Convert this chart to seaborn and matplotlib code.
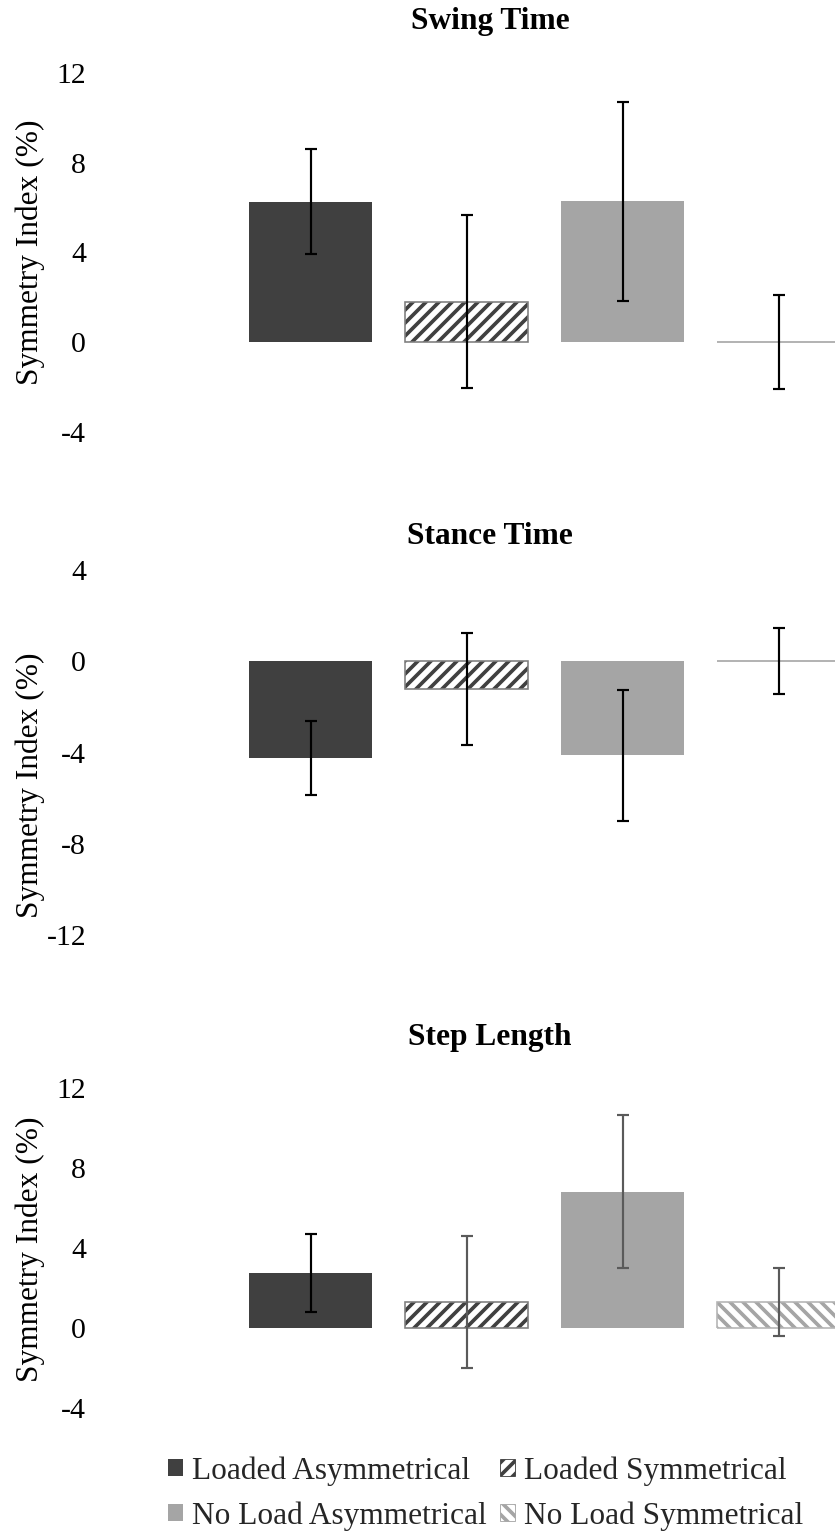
import matplotlib
matplotlib.use("Agg")
import matplotlib.pyplot as plt
import numpy as np
import pandas as pd
import seaborn as sns
from matplotlib.patches import Patch, Rectangle

# ---- data -------------------------------------------------------------
conditions = ["Loaded Asymmetrical", "Loaded Symmetrical",
              "No Load Asymmetrical", "No Load Symmetrical"]

swing_mean = [6.27, 1.80, 6.28, 0.0]
swing_sd = [2.33, 3.85, 4.43, 2.10]

stance_mean = [-4.24, -1.21, -4.13, 0.0]
stance_sd = [1.61, 2.44, 2.89, 1.44]

step_mean = [2.74, 1.28, 6.82, 1.30]
step_sd = [1.95, 3.30, 3.83, 1.70]

panel_titles = ["Swing Time", "Stance Time", "Step Length"]
ylabel = "Symmetry Index (%)"

# ---- styling ----------------------------------------------------------
W, H, DPI = 835, 1533, 78
fill_colors = ["#404040", "#ffffff", "#a5a5a5", "#ffffff"]
stripe_colors = [None, "#404040", None, "#a5a5a5"]
border_colors = [None, "#7f7f7f", None, "#b4b4b4"]
hatches = [None, "//", None, "\\\\"]

sns.set_theme(style="white")
plt.rcParams["font.family"] = ["Liberation Serif", "DejaVu Serif"]
plt.rcParams["axes.unicode_minus"] = False
plt.rcParams["hatch.linewidth"] = 3.4


def fx(px):
    return px / W


def fy(py):
    return 1 - py / H


fig = plt.figure(figsize=(W / DPI, H / DPI), dpi=DPI)
fig.patch.set_facecolor("white")

panels = [
    # title, means, sds, ylim, ticks, errorbar colours, top px, bottom px, title y, label y
    (panel_titles[0], swing_mean, swing_sd, (-4, 12), [-4, 0, 4, 8, 12],
     ["black"] * 4, 73, 432, 22, 252),
    (panel_titles[1], stance_mean, stance_sd, (-12, 4), [-12, -8, -4, 0, 4],
     ["black"] * 4, 570, 935, 537, 785),
    (panel_titles[2], step_mean, step_sd, (-4, 12), [-4, 0, 4, 8, 12],
     ["black", "#5a5a5a", "#5a5a5a", "#5a5a5a"], 1088, 1408, 1037, 1249),
]

AX_LEFT = 96
bar_step_px = 156.0
first_center_px = 310.5

for title, means, sds, ylim, ticks, ecolors, top, bottom, title_y, label_y in panels:
    ax = fig.add_axes([fx(AX_LEFT), fy(bottom), fx(W) - fx(AX_LEFT), (bottom - top) / H])
    df = pd.DataFrame({"condition": conditions, "si": means})
    sns.barplot(data=df, x="condition", y="si", hue="condition",
                order=conditions, hue_order=conditions, palette=fill_colors,
                width=0.79, saturation=1, legend=False, errorbar=None, ax=ax)

    bars = list(ax.patches)
    centers = [b.get_x() + b.get_width() / 2 for b in bars]
    for i, b in enumerate(bars):
        b.set_linewidth(0)
        if hatches[i]:
            b.set_facecolor("white")
            b.set_edgecolor(stripe_colors[i])
            b.set_hatch(hatches[i])
            ax.add_patch(Rectangle(b.get_xy(), b.get_width(), b.get_height(),
                                   fill=False, edgecolor=border_colors[i],
                                   linewidth=1.5, zorder=b.get_zorder() + 0.1))

    for c, m, s, col in zip(centers, means, sds, ecolors):
        ax.errorbar(c, m, yerr=s, fmt="none", ecolor=col, elinewidth=2.0,
                    capsize=5.5, capthick=2.0, zorder=5)

    ax.set_ylim(*ylim)
    ax.set_yticks(ticks)
    ax.set_yticklabels([str(t) for t in ticks])
    ax.set_xlim((AX_LEFT - first_center_px) / bar_step_px,
                (W - first_center_px) / bar_step_px)
    ax.set_xticks([])
    ax.set_xlabel("")
    ax.tick_params(axis="y", length=0, pad=9.2, labelsize=27.5, colors="black")
    for sp in ax.spines.values():
        sp.set_visible(False)
    ax.set_facecolor("none")

    ax.set_ylabel(ylabel, fontsize=29, color="black", va="center")
    ax_h = bottom - top
    ax.yaxis.set_label_coords((30 - AX_LEFT) / (W - AX_LEFT), (bottom - label_y) / ax_h)

    fig.text(fx(490), fy(title_y), title, ha="center", va="center",
             fontsize=29, fontweight="bold", color="black")

# ---- legend -----------------------------------------------------------
handles = [
    Patch(facecolor=fill_colors[0], edgecolor="none"),
    Patch(facecolor=fill_colors[2], edgecolor="none"),
    Patch(facecolor="white", edgecolor=stripe_colors[1], hatch=hatches[1], linewidth=0.8),
    Patch(facecolor="white", edgecolor=stripe_colors[3], hatch=hatches[3], linewidth=0.8),
]
labels = [conditions[0], conditions[2], conditions[1], conditions[3]]
fig.legend(handles, labels, loc="center", ncol=2, frameon=False,
           bbox_to_anchor=(fx(485.5), fy(1493.5)), fontsize=29,
           handlelength=0.48, handleheight=0.48, handletextpad=0.29,
           columnspacing=0.42, labelspacing=0.5, borderpad=0, borderaxespad=0)

fig.savefig("out.png", dpi=DPI, facecolor="white")
